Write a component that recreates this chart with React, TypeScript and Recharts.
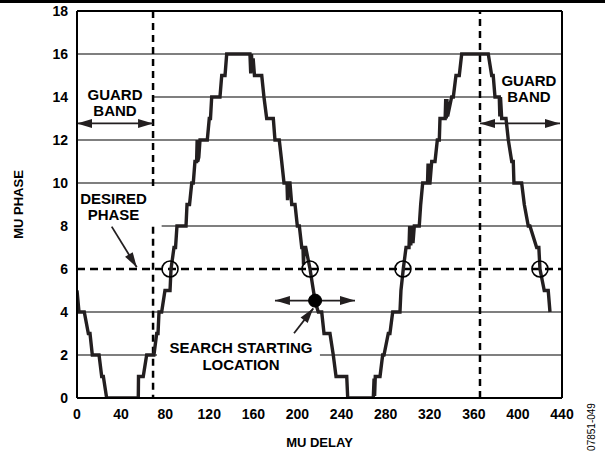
import React from 'react';
import { LineChart, Line, XAxis, YAxis, ReferenceLine, ReferenceDot } from 'recharts';

// MU DELAY (x) and MU PHASE (y) of the measured staircase curve
const muDelay = [
  0, 1.8, 6.6, 10.3, 11.8, 13.9, 20.0, 22.4, 23.9, 26.9, 55.6, 55.8, 60.1, 63.2, 69.8, 72.3, 73.5, 74.4, 76.8, 79.8,
  84.4, 85.3, 88.0, 89.4, 90.7, 98.9, 99.8, 102.1, 104.1, 105.5, 107.0, 108.5, 109.0, 109.5, 110.5, 111.6, 118.2, 120.0, 121.1, 122.2,
  129.7, 131.3, 134.3, 135.8, 156.9, 157.6, 158.3, 159.0, 159.8, 161.0, 167.6, 169.6, 172.1, 178.1, 179.6, 183.5, 185.7, 187.8, 190.5, 191.0,
  191.6, 193.2, 194.8, 197.8, 199.9, 201.7, 203.9, 205.0, 205.5, 206.0, 207.5, 211.4, 216.0, 218.9, 222.0, 224.1, 229.5, 232.5, 235.0, 244.7,
  245.6, 268.8, 269.5, 270.0, 270.6, 274.9, 277.3, 278.5, 282.4, 283.9, 286.4, 293.0, 293.9, 296.0, 298.5, 301.2, 301.8, 302.8, 303.8, 304.8,
  306.0, 310.5, 311.8, 313.6, 318.0, 318.5, 319.0, 320.2, 321.8, 324.8, 326.9, 328.7, 329.3, 334.0, 334.5, 335.0, 335.6, 336.2, 339.9, 341.4,
  343.8, 346.8, 349.0, 373.1, 376.2, 377.6, 379.2, 383.1, 383.6, 384.2, 385.3, 389.2, 391.3, 394.4, 395.8, 396.4, 403.4, 405.8, 409.4, 410.9,
  417.0, 419.0, 420.0, 423.9, 427.5, 429.1,
];
const muPhase = [
  5, 4, 4, 3, 3, 2, 2, 1, 1, 0, 0, 1, 1, 2, 2, 3, 3, 4, 4, 5,
  5, 6, 7, 7, 8, 8, 9, 9, 10, 10, 11, 11, 12, 11, 11.2, 12, 12, 13, 13, 14,
  14, 15, 15, 16, 16, 15.1, 16, 15.2, 15.8, 15, 15, 14, 13, 13, 12, 12, 11, 10, 10, 9.2,
  10, 10, 9, 9, 8, 8, 7, 7, 6.2, 7, 7, 6, 4.5, 4, 4, 3, 3, 2, 1, 1,
  0, 0, 0.9, 0.1, 1, 1, 2, 2, 3, 3, 4, 4, 5, 6, 7, 7, 8, 7.1, 8, 7.2,
  8, 8, 9, 10, 10, 10.9, 10, 10, 11, 11, 12, 12, 13, 13, 13.9, 13, 13.9, 13.1, 14, 14,
  15, 15, 16, 16, 15, 15, 14, 14, 13.1, 14, 13, 13, 12, 11, 11, 10, 10, 9, 8, 8,
  7, 7, 6, 5, 5, 4,
];

const xTicks = [0, 40, 80, 120, 160, 200, 240, 280, 320, 360, 400, 440];
const yTicks = [0, 2, 4, 6, 8, 10, 12, 14, 16, 18];

const desiredPhase = 6;
const crossingDelays = [84.4, 211.4, 295.7, 420.0];
const guardBandDelays = [69, 365.6];
const searchStart = { x: 216, y: 4.53 };

const data = muDelay.map((x, i) => ({ x, y: muPhase[i] }));

const FONT = "'Liberation Sans', Arial, Helvetica, sans-serif";
const INK = '#231f20';

// grid line runs (broken where annotation text sits)
const gridRuns = [
  { y: 2, from: 0, to: 72.6 },
  { y: 2, from: 220.4, to: 440 },
  { y: 4, from: 0, to: 440 },
  { y: 8, from: 76.8, to: 440 },
  { y: 10, from: 0, to: 440 },
  { y: 12, from: 0, to: 440 },
  { y: 14, from: 69, to: 379.2 },
  { y: 16, from: 0, to: 440 },
];

const makeArrow = (both: boolean) => (props: any) => {
  const { x1, y1, x2, y2 } = props;
  const dx = x2 - x1;
  const dy = y2 - y1;
  const len = Math.sqrt(dx * dx + dy * dy) || 1;
  const ux = dx / len;
  const uy = dy / len;
  const hl = 15;
  const hw = 4.5;
  const head = (tx: number, ty: number, dirx: number, diry: number) => {
    const bx = tx - dirx * hl;
    const by = ty - diry * hl;
    const px = -diry * hw;
    const py = dirx * hw;
    return `${tx},${ty} ${bx + px},${by + py} ${bx - px},${by - py}`;
  };
  return (
    <g>
      <line x1={x1} y1={y1} x2={x2} y2={y2} stroke={INK} strokeWidth={1.8} />
      <polygon points={head(x2, y2, ux, uy)} fill={INK} />
      {both && <polygon points={head(x1, y1, -ux, -uy)} fill={INK} />}
    </g>
  );
};

const makeText = (lines: string[], lineHeight: number) => (props: any) => (
  <g>
    {lines.map((l, i) => (
      <text
        key={i}
        x={props.cx}
        y={props.cy + i * lineHeight}
        textAnchor="middle"
        fontFamily={FONT}
        fontWeight="bold"
        fontSize={15}
        fill="#000"
      >
        {l}
      </text>
    ))}
  </g>
);

const yLabel = (props: any) => {
  const vb = props.viewBox || { x: 0, y: 11, width: 77, height: 387 };
  const x = vb.x + 23;
  const y = vb.y + vb.height / 2;
  return (
    <text
      x={x}
      y={y}
      transform={`rotate(-90, ${x}, ${y})`}
      textAnchor="middle"
      fontFamily={FONT}
      fontWeight="bold"
      fontSize={13}
      fill="#000"
    >
      MU PHASE
    </text>
  );
};

export default function App() {
  return (
    <div style={{ position: 'absolute', left: 0, top: 0, width: 605, height: 454, background: '#fff' }}>
      <div style={{ position: 'absolute', left: 0, top: 0, width: 605, height: 3, background: '#000' }} />
      <LineChart
        width={605}
        height={454}
        data={data}
        margin={{ top: 11, right: 43, bottom: 0, left: 0 }}
      >
        <XAxis
          type="number"
          dataKey="x"
          domain={[0, 440]}
          ticks={xTicks}
          interval={0}
          allowDataOverflow
          height={56}
          tickLine={false}
          tickSize={0}
          tickMargin={11}
          axisLine={{ stroke: '#000', strokeWidth: 2 }}
          tick={{ fill: '#000', fontSize: 14, fontWeight: 'bold', fontFamily: FONT }}
          label={{ value: 'MU DELAY', position: 'insideBottom', offset: 7, fill: '#000', fontSize: 13, fontWeight: 'bold', fontFamily: FONT }}
        />
        <YAxis
          type="number"
          domain={[0, 18]}
          ticks={yTicks}
          interval={0}
          allowDataOverflow
          width={77}
          tickLine={false}
          tickSize={0}
          tickMargin={9}
          axisLine={{ stroke: '#000', strokeWidth: 2 }}
          tick={{ fill: '#000', fontSize: 14, fontWeight: 'bold', fontFamily: FONT }}
          label={yLabel}
        />

        {gridRuns.map((g, i) => (
          <ReferenceLine
            key={`g${i}`}
            segment={[{ x: g.from, y: g.y }, { x: g.to, y: g.y }]}
            stroke="#000"
            strokeWidth={1.2}
          />
        ))}

        <ReferenceLine x={440} stroke="#000" strokeWidth={2} />
        <ReferenceLine y={18} stroke="#000" strokeWidth={2} />

        <ReferenceLine
          segment={[{ x: guardBandDelays[0], y: 18 }, { x: guardBandDelays[0], y: 9.85 }]}
          stroke="#000"
          strokeWidth={2.5}
          strokeDasharray="7 5"
        />
        <ReferenceLine
          segment={[{ x: guardBandDelays[0], y: 7.97 }, { x: guardBandDelays[0], y: 0 }]}
          stroke="#000"
          strokeWidth={2.5}
          strokeDasharray="7 5"
        />
        <ReferenceLine x={guardBandDelays[1]} stroke="#000" strokeWidth={2.5} strokeDasharray="7 5" />
        <ReferenceLine y={desiredPhase} stroke="#000" strokeWidth={2.5} strokeDasharray="8 5" />

        <Line
          type="linear"
          dataKey="y"
          stroke={INK}
          strokeWidth={3.4}
          dot={false}
          activeDot={false}
          isAnimationActive={false}
          strokeLinejoin="miter"
        />

        {crossingDelays.map((x, i) => (
          <ReferenceDot key={`c${i}`} x={x} y={desiredPhase} r={8} fill="none" stroke="#000" strokeWidth={1.6} />
        ))}
        <ReferenceDot x={searchStart.x} y={searchStart.y} r={6.5} fill="#000" stroke="#000" strokeWidth={1} />

        {/* guard band arrows */}
        <ReferenceLine segment={[{ x: 0, y: 12.77 }, { x: guardBandDelays[0], y: 12.77 }]} shape={makeArrow(true)} />
        <ReferenceLine segment={[{ x: guardBandDelays[1], y: 12.77 }, { x: 438.2, y: 12.77 }]} shape={makeArrow(true)} />
        {/* desired phase arrow */}
        <ReferenceLine segment={[{ x: 31.5, y: 7.97 }, { x: 54.2, y: 6.08 }]} shape={makeArrow(false)} />
        {/* search arrows */}
        <ReferenceLine segment={[{ x: 179.6, y: searchStart.y }, { x: 252.2, y: searchStart.y }]} shape={makeArrow(true)} />
        <ReferenceLine segment={[{ x: 196.9, y: 3.01 }, { x: 214.4, y: 4.17 }]} shape={makeArrow(false)} />

        {/* annotation texts */}
        <ReferenceDot x={34.5} y={13.88} r={1} shape={makeText(['GUARD', 'BAND'], 16)} />
        <ReferenceDot x={410} y={14.5} r={1} shape={makeText(['GUARD', 'BAND'], 16)} />
        <ReferenceDot x={33.1} y={9.02} r={1} shape={makeText(['DESIRED', 'PHASE'], 16)} />
        <ReferenceDot x={148.8} y={2.09} r={1} shape={makeText(['SEARCH STARTING', 'LOCATION'], 17)} />
      </LineChart>
      <div
        style={{
          position: 'absolute',
          left: 592,
          top: 427,
          transform: 'translate(-50%, -50%) rotate(-90deg)',
          fontFamily: FONT,
          fontSize: 10,
          color: '#000',
          whiteSpace: 'nowrap',
          lineHeight: '10px',
        }}
      >
        07851-049
      </div>
    </div>
  );
}
